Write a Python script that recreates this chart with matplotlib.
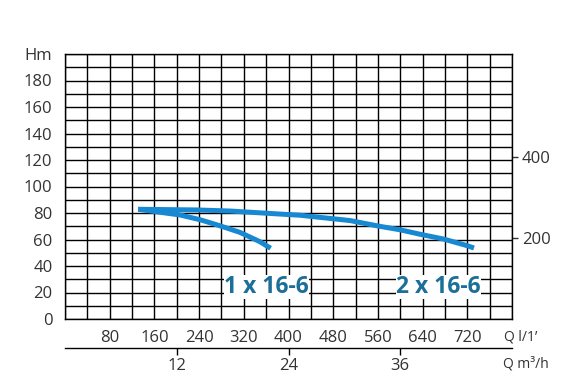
import numpy as np
import matplotlib
matplotlib.use("Agg")
import matplotlib.pyplot as plt

# ---------------- data ----------------
# 2 x 16-6 curve (Q in l/min, H in m)
q_two = [131, 236, 295, 385, 421, 510, 564, 600, 635, 677, 716, 732]
h_two = [82.8, 82.3, 81.5, 79.2, 78.3, 74.3, 69.9, 67.3, 64.0, 60.4, 55.8, 53.6]

# 1 x 16-6 curve
q_one = [131, 206, 242, 277, 313, 349, 368]
h_one = [82.8, 78.5, 74.9, 70.4, 65.4, 58.3, 53.4]

curve_labels = ["1 x 16-6", "2 x 16-6"]
label_pos = [(360, 24.2), (668, 24.2)]   # (Q, H) of label centres

q_ticks = [80, 160, 240, 320, 400, 480, 560, 640, 720]
h_ticks = [0, 20, 40, 60, 80, 100, 120, 140, 160, 180]
m3h_ticks = [12, 24, 36]
ft_ticks = [200, 400]

BLUE = "#1789d2"
TEXT_BLUE = "#1b6f98"
GRAY = "#333333"

plt.rcParams["font.family"] = ["Open Sans", "DejaVu Sans"]

W, H = 576, 383
fig = plt.figure(figsize=(W / 100, H / 100), dpi=100)
ax = fig.add_axes([65 / W, (H - 319) / H, 447 / W, (319 - 54) / H])

ax.set_xlim(0, 800)
ax.set_ylim(0, 200)

# grid every 40 l/min and every 10 m
ax.set_xticks(np.arange(0, 801, 40))
ax.set_xticklabels([str(v) if v in q_ticks else "" for v in range(0, 801, 40)])
ax.set_yticks(np.arange(0, 201, 10))
ylabels = []
for v in range(0, 201, 10):
    if v in h_ticks:
        ylabels.append(str(v))
    elif v == 200:
        ylabels.append("Hm")
    else:
        ylabels.append("")
ax.set_yticklabels(ylabels)
ax.grid(True, color="black", linewidth=1.0)
ax.set_axisbelow(True)
ax.tick_params(axis="x", length=0, pad=8, labelsize=12, labelcolor=GRAY)
ax.tick_params(axis="y", length=0, pad=9, labelsize=12, labelcolor=GRAY)
for s in ax.spines.values():
    s.set_color("black")
    s.set_linewidth(1.0)

# curves
ax.plot(q_two, h_two, color=BLUE, lw=3.6, solid_capstyle="butt",
        solid_joinstyle="round", zorder=3)
ax.plot(q_one, h_one, color=BLUE, lw=3.6, solid_capstyle="butt",
        solid_joinstyle="round", zorder=3)

for txt, (qx, hy) in zip(curve_labels, label_pos):
    ax.text(qx, hy, txt, ha="center", va="center", fontsize=16.5,
            fontweight="bold", color=TEXT_BLUE, zorder=4,
            bbox=dict(facecolor="white", edgecolor="none", pad=0.0))

# secondary flow axis in m3/h (1 m3/h = 1000/60 l/min)
sec = ax.secondary_xaxis(-29 / 265, functions=(lambda q: q * 0.06, lambda m: m / 0.06))
sec.set_xticks(m3h_ticks)
sec.tick_params(axis="x", direction="out", length=5, width=1, pad=2,
                labelsize=12, labelcolor=GRAY, color="black")
sec.spines["bottom"].set_linewidth(1.0)

# right axis in feet
secy = ax.secondary_yaxis("right", functions=(lambda m: m * 3.2808, lambda f: f / 3.2808))
secy.set_yticks(ft_ticks)
secy.tick_params(axis="y", direction="out", length=4, width=1, pad=3,
                 labelsize=12, labelcolor=GRAY, color=GRAY)
secy.spines["right"].set_visible(False)

fig.text(504 / W, 1 - 337 / H, "Q l/1\u2019", ha="left", va="center",
         fontsize=10, color=GRAY)
fig.text(503 / W, 1 - 364 / H, "Q m\u00b3/h", ha="left", va="center",
         fontsize=10, color=GRAY)

fig.savefig("out.png", dpi=100, facecolor="white")
